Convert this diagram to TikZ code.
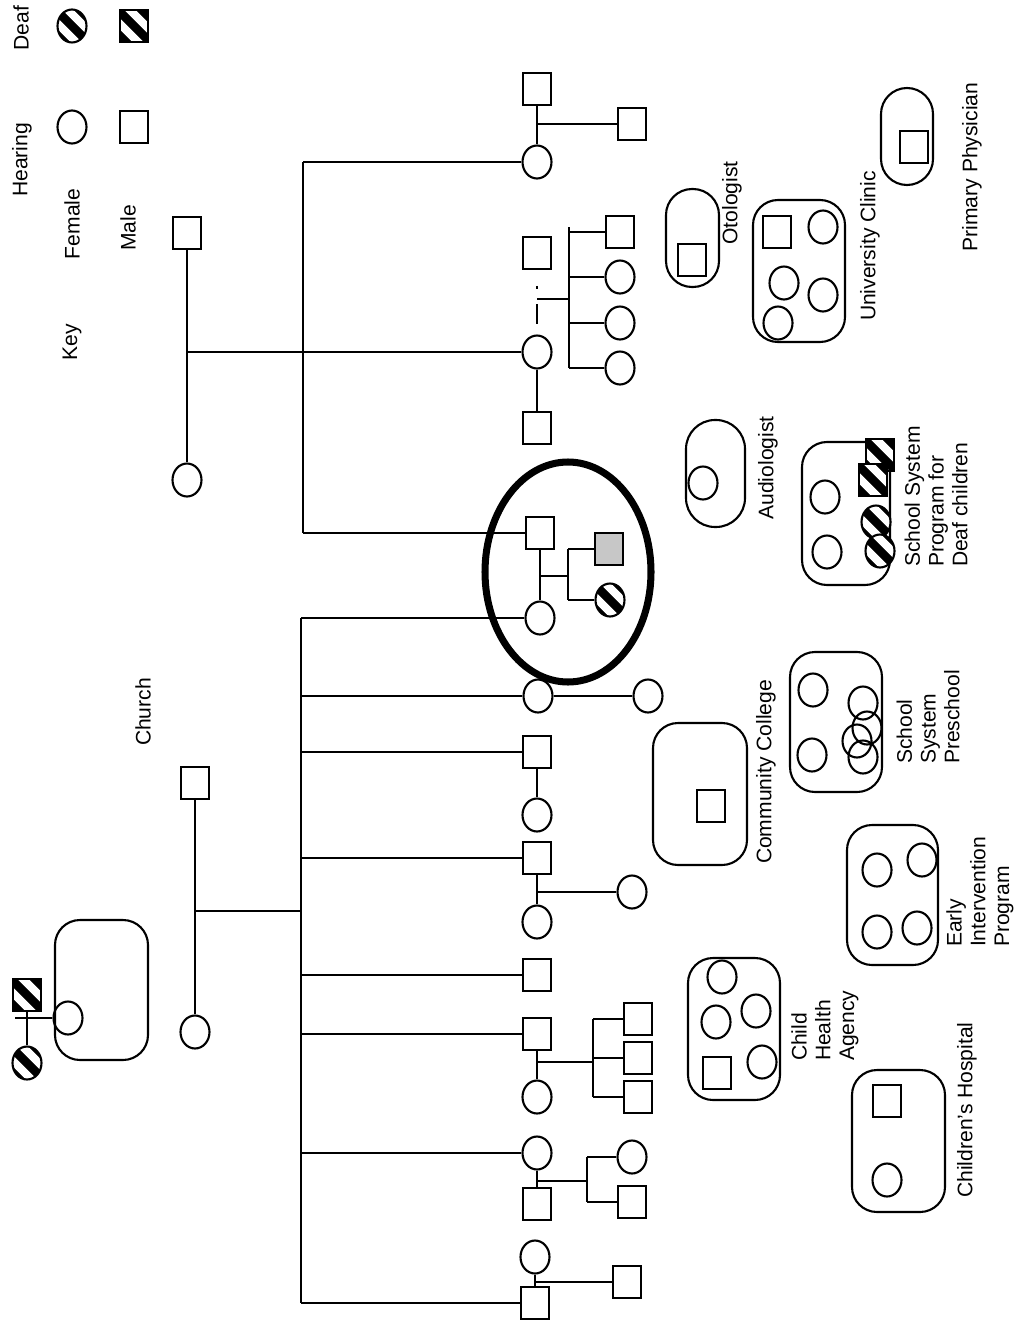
\documentclass[tikz,border=0pt]{standalone}
\usepackage{fontspec}
\setmainfont{Liberation Sans}
\usetikzlibrary{shapes.geometric}

\tikzset{
  fem/.style={ellipse, draw, line width=1.2pt, minimum width=0.58cm, minimum height=0.66cm, inner sep=0pt},
  mal/.style={rectangle, draw, line width=1.2pt, minimum width=0.56cm, minimum height=0.64cm, inner sep=0pt},
  deaf/.style={fill=black, path picture={
      \draw[white, line width=4.5pt, shift={(path picture bounding box.center)}]
        (-0.3cm,0.54cm) -- (0.54cm,-0.3cm) (-0.54cm,0.3cm) -- (0.3cm,-0.54cm);}},
  dotty/.style={fill=black!22},
  agency/.style={draw, line width=1.2pt, rounded corners=0.5cm},
  pill/.style={draw, line width=1.2pt, rounded corners=0.52cm},
  lbl/.style={rotate=90, font=\fontsize{12}{13.5}\selectfont, align=left, inner sep=0pt},
}

\begin{document}
\begin{tikzpicture}[x=0.02cm, y=-0.02cm, line width=1.2pt]
\useasboundingbox (0,0) rectangle (1014,1328);

% --- key ---
\node[lbl] (tdeaf) at (21,28) {Deaf};
\node[lbl] (thear) at (22,160) {Hearing};
\node[lbl] (tfem) at (72,224) {Female};
\node[lbl] (tmal) at (128,228) {Male};
\node[lbl] (tkey) at (72,342) {Key};
\node[fem, deaf] (kdf) at (72,26) {};
\node[mal, deaf] (kdm) at (134,26) {};
\node[fem] (khf) at (72,127) {};
\node[mal] (khm) at (134,127) {};

% --- father's side ---
\node[mal] (pgf) at (187,233) {};
\node[fem] (pgm) at (187,480) {};
\draw (pgf) -- (pgm);
\coordinate (pj) at (187,352);
\node[fem] (a2) at (537,352) {};
\draw (pj) -- (a2);

\node[mal] (t1h) at (537,89) {};
\node[fem] (t1) at (537,162) {};
\node[mal] (t1c) at (632,124) {};
\draw (t1h) -- (t1);
\coordinate (t1j) at (537,124);
\draw (t1j) -- (t1c);
\coordinate (ftop) at (303,162);
\coordinate (fbot) at (303,533);
\draw (ftop) -- (fbot);
\draw (ftop) -- (t1);

\node[mal] (s2) at (537,253) {};
\node[mal] (a2h) at (537,428) {};
\draw (a2) -- (a2h);
\draw[dash pattern=on 0pt off 9pt on 1.5pt off 9pt on 11pt off 30pt] (s2) -- (a2);
\coordinate (s2j) at (537,299);
\coordinate (kj) at (569,299);
\coordinate (k1) at (569,227);
\coordinate (k4) at (569,368);
\draw (s2j) -- (kj);
\draw (k1) -- (k4);
\node[mal] (g1) at (620,232) {};
\node[fem] (g2) at (620,277) {};
\node[fem] (g3) at (620,323) {};
\node[fem] (g4) at (620,368) {};
\foreach \n in {g1,g2,g3,g4}
  \draw (k1 |- \n) -- (\n);

% --- family in focus ---
\node[mal] (fa) at (540,533) {};
\node[fem] (mo) at (540,618) {};
\draw (fa) -- (mo);
\draw (fbot) -- (fa);
\coordinate (fj) at (540,576);
\coordinate (fk) at (568,576);
\draw (fj) -- (fk);
\node[mal, dotty] (ch1) at (609,549) {};
\node[fem, deaf] (ch2) at (610,600) {};
\draw (fk |- ch1) -- (fk |- ch2);
\draw (fk |- ch1) -- (ch1);
\draw (fk |- ch2) -- (ch2);
\draw[line width=4pt] (568,572) ellipse [x radius=83, y radius=110];

% --- mother's side ---
\node[lbl] (tchurch) at (143,712) {Church};
\node[mal] (cgf) at (195,783) {};
\node[fem] (cgm) at (195,1032) {};
\draw (cgf) -- (cgm);
\coordinate (cj) at (195,911);
\coordinate (ltop) at (301,618);
\coordinate (lbot) at (301,1303);
\draw (cj) -- (ltop |- cj);
\draw (ltop) -- (lbot);
\draw (ltop) -- (mo);

\node[fem] (c2) at (538,696) {};
\node[fem] (c2h) at (648,696) {};
\draw (ltop |- c2) -- (c2);
\draw (c2) -- (c2h);

\node[mal] (c3) at (537,752) {};
\node[fem] (c3w) at (537,815) {};
\draw (ltop |- c3) -- (c3);
\draw (c3) -- (c3w);

\node[mal] (c4) at (537,858) {};
\node[fem] (c4w) at (537,922) {};
\node[fem] (c4c) at (632,892) {};
\draw (ltop |- c4) -- (c4);
\draw (c4) -- (c4w);
\coordinate (c4j) at (537,892);
\draw (c4j) -- (c4c);

\node[mal] (c5) at (537,975) {};
\draw (ltop |- c5) -- (c5);

\node[mal] (c6) at (537,1034) {};
\node[fem] (c6w) at (537,1097) {};
\draw (ltop |- c6) -- (c6);
\draw (c6) -- (c6w);
\coordinate (c6j) at (537,1062);
\coordinate (c6k) at (593,1062);
\draw (c6j) -- (c6k);
\node[mal] (c6a) at (638,1019) {};
\node[mal] (c6b) at (638,1058) {};
\node[mal] (c6c) at (638,1097) {};
\draw (c6k |- c6a) -- (c6k |- c6c);
\foreach \n in {c6a,c6b,c6c}
  \draw (c6k |- \n) -- (\n);

\node[fem] (c7) at (537,1153) {};
\node[mal] (c7h) at (537,1204) {};
\draw (ltop |- c7) -- (c7);
\draw (c7) -- (c7h);
\coordinate (c7j) at (537,1181);
\coordinate (c7k) at (587,1181);
\draw (c7j) -- (c7k);
\node[fem] (c7a) at (632,1157) {};
\node[mal] (c7b) at (632,1202) {};
\draw (c7k |- c7a) -- (c7k |- c7b);
\draw (c7k |- c7a) -- (c7a);
\draw (c7k |- c7b) -- (c7b);

\node[fem] (c8w) at (535,1257) {};
\node[mal] (c8) at (535,1303) {};
\draw (lbot) -- (c8);
\draw (c8w) -- (c8);
\coordinate (c8j) at (535,1282);
\node[mal] (c8c) at (627,1282) {};
\draw (c8j) -- (c8c);

% --- church group ---
\draw[agency] (55,920) rectangle (148,1060);
\node[fem] (ogm) at (68,1018) {};
\node[mal, deaf] (ogf) at (27,995) {};
\node[fem, deaf] (ogd) at (27,1063) {};
\draw (ogf) -- (ogd);
\coordinate (ogj) at (15,1018);
\draw (ogj) -- (ogm);

% --- agencies ---
\draw[agency] (653,723) rectangle (747,865);
\node[mal] (cc1) at (711,806) {};
\node[lbl] (tcc) at (766,772) {Community College};

\draw[agency] (790,652) rectangle (882,792);
\node[fem] (p1) at (813,690) {};
\node[fem] (p2) at (812,755) {};
\node[fem] (p3) at (863,703) {};
\node[fem] (p4) at (867,728) {};
\node[fem] (p5) at (857,741) {};
\node[fem] (p6) at (863,757) {};
\node[lbl, anchor=west] (tpre) at (928,765) {School\\System\\Preschool};

\draw[agency] (847,825) rectangle (938,965);
\node[fem] (e1) at (877,870) {};
\node[fem] (e2) at (922,860) {};
\node[fem] (e3) at (877,932) {};
\node[fem] (e4) at (917,928) {};
\node[lbl, anchor=west] (tearly) at (980,948) {Early\\Intervention\\Program};

\draw[agency] (688,958) rectangle (780,1100);
\node[fem] (h1) at (722,977) {};
\node[fem] (h2) at (716,1022) {};
\node[fem] (h3) at (756,1011) {};
\node[fem] (h4) at (762,1062) {};
\node[mal] (h5) at (717,1073) {};
\node[lbl, anchor=west] (tcha) at (825,1062) {Child\\Health\\Agency};

\draw[agency] (852,1070) rectangle (945,1212);
\node[mal] (o1) at (887,1101) {};
\node[fem] (o2) at (887,1180) {};
\node[lbl] (thosp) at (967,1110) {Children's Hospital};

\draw[agency] (802,442) rectangle (890,585);
\node[fem] (d1) at (825,497) {};
\node[fem] (d2) at (827,552) {};
\node[fem, deaf] (d5) at (876,522) {};
\node[fem, deaf] (d6) at (880,551) {};
\node[mal, deaf] (d3) at (880,455) {};
\node[mal, deaf] (d4) at (873,480) {};
\node[lbl, anchor=west] (tsch) at (936,568) {School System\\Program for\\Deaf children};

\draw[pill, rounded corners=0.58cm] (686,420) rectangle (745,527);
\node[fem] (au1) at (703,483) {};
\node[lbl] (taud) at (768,468) {Audiologist};

\draw[pill] (666,189) rectangle (719,287);
\node[mal] (ot1) at (692,260) {};
\node[lbl] (toto) at (732,203) {Otologist};

\draw[agency] (753,200) rectangle (845,342);
\node[mal] (u1) at (777,232) {};
\node[fem] (u2) at (823,227) {};
\node[fem] (u3) at (784,283) {};
\node[fem] (u4) at (823,295) {};
\node[fem] (u5) at (778,323) {};
\node[lbl] (tuni) at (870,246) {University Clinic};

\draw[pill] (881,88) rectangle (933,185);
\node[mal] (pp1) at (914,147) {};
\node[lbl] (tprim) at (972,167) {Primary Physician};

\end{tikzpicture}
\end{document}
